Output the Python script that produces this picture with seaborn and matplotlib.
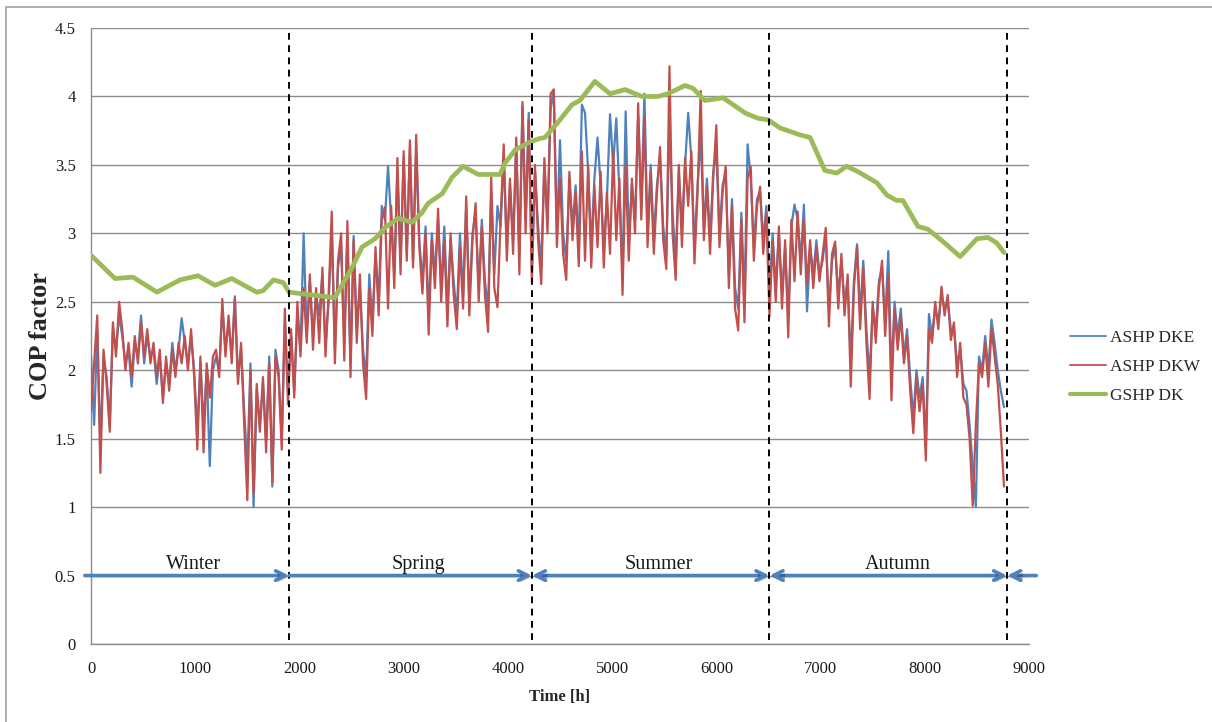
import numpy as np
import pandas as pd
import matplotlib
matplotlib.use("Agg")
import matplotlib.pyplot as plt
import matplotlib.patheffects as pe
from matplotlib.lines import Line2D
from matplotlib.patches import Rectangle
import seaborn as sns

# ---------------------------------------------------------------- data
# Hourly COP of the air-source heat pumps, sampled every 30 h (0 ... 8760 h)
ashp_hours = np.arange(0, 8761, 30)

ashp_dke = [
    2.10, 1.60, 2.30, 1.45, 2.10, 1.95, 1.60, 2.30, 2.15, 2.40,
    2.25, 2.05, 2.15, 1.88, 2.20, 2.10, 2.40, 2.05, 2.25, 2.10,
    2.15, 1.90, 2.10, 1.80, 2.05, 1.90, 2.20, 2.00, 2.15, 2.38,
    2.20, 2.05, 2.25, 2.00, 1.55, 2.05, 1.60, 2.00, 1.30, 2.00,
    2.10, 2.00, 2.45, 2.15, 2.35, 2.10, 2.54, 1.95, 2.15, 1.70,
    1.30, 2.05, 1.00, 1.85, 1.60, 1.90, 1.50, 2.10, 1.15, 2.15,
    2.00, 1.50, 2.35, 1.85, 2.25, 1.85, 2.40, 2.15, 3.00, 2.25,
    2.65, 2.25, 2.55, 2.40, 2.70, 2.20, 2.50, 3.00, 2.15, 2.75,
    2.90, 2.20, 3.00, 2.05, 2.98, 2.30, 2.60, 2.15, 1.95, 2.70,
    2.35, 2.85, 2.50, 3.20, 3.10, 3.49, 3.10, 2.70, 3.45, 2.80,
    3.55, 2.85, 3.62, 2.80, 3.60, 2.95, 2.65, 3.05, 2.40, 3.00,
    2.70, 3.10, 2.60, 3.05, 2.45, 2.95, 2.65, 2.40, 3.00, 2.55,
    3.20, 2.50, 3.00, 3.15, 2.60, 3.10, 2.65, 2.45, 3.30, 2.70,
    3.20, 3.05, 3.55, 2.90, 3.35, 2.95, 3.65, 2.85, 3.93, 3.10,
    3.88, 2.75, 3.45, 3.05, 2.75, 3.50, 3.10, 3.90, 4.05, 3.00,
    3.68, 3.00, 2.80, 3.40, 3.05, 3.35, 2.90, 3.94, 3.88, 3.45,
    2.90, 3.40, 3.70, 3.35, 2.90, 3.25, 3.87, 3.50, 3.84, 3.30,
    2.70, 3.89, 2.95, 3.35, 3.10, 3.85, 3.20, 4.02, 3.00, 3.50,
    2.95, 3.35, 3.55, 3.05, 2.85, 3.78, 3.15, 2.80, 3.45, 3.05,
    3.50, 3.88, 3.55, 2.90, 3.35, 3.70, 3.05, 3.40, 2.95, 3.45,
    3.60, 3.00, 3.35, 3.45, 2.70, 3.25, 2.60, 2.45, 3.15, 2.50,
    3.65, 3.40, 2.90, 3.25, 3.30, 2.95, 3.20, 2.55, 3.00, 2.60,
    3.00, 2.55, 2.90, 2.40, 3.05, 3.21, 3.10, 2.80, 3.21, 2.43,
    2.90, 2.70, 2.95, 2.70, 2.80, 3.00, 2.45, 2.80, 2.90, 2.55,
    2.80, 2.50, 2.65, 2.05, 2.65, 2.92, 2.40, 2.80, 2.30, 1.95,
    2.45, 2.30, 2.65, 2.75, 2.35, 2.87, 1.95, 2.50, 2.25, 2.45,
    2.10, 2.30, 1.95, 1.65, 2.00, 1.80, 1.95, 1.45, 2.41, 2.25,
    2.45, 2.35, 2.55, 2.45, 2.50, 2.30, 2.30, 2.05, 2.15, 1.90,
    1.85, 1.60, 1.30, 1.00, 2.10, 2.00, 2.25, 2.00, 2.37, 2.20,
    2.00, 1.85, 1.73,
]

ashp_dkw = [
    1.70, 2.05, 2.40, 1.25, 2.15, 1.90, 1.55, 2.35, 2.10, 2.50,
    2.30, 2.00, 2.20, 1.95, 2.25, 2.05, 2.35, 2.10, 2.30, 2.05,
    2.20, 1.95, 2.15, 1.76, 2.10, 1.85, 2.15, 1.95, 2.20, 2.05,
    2.25, 2.00, 2.30, 1.95, 1.42, 2.10, 1.40, 2.05, 1.80, 2.10,
    2.15, 1.95, 2.52, 2.10, 2.40, 2.05, 2.52, 1.90, 2.20, 1.60,
    1.05, 2.00, 1.10, 1.90, 1.55, 1.95, 1.40, 2.05, 1.18, 2.10,
    1.95, 1.42, 2.45, 1.75, 2.30, 1.80, 2.50, 2.10, 2.60, 2.20,
    2.70, 2.15, 2.60, 2.20, 2.75, 2.10, 2.55, 3.16, 2.05, 2.80,
    3.00, 2.07, 3.09, 1.95, 2.95, 2.20, 2.70, 2.05, 1.79, 2.60,
    2.25, 2.90, 2.40, 3.10, 3.19, 2.45, 3.20, 2.60, 3.55, 2.70,
    3.60, 2.80, 3.68, 2.75, 3.72, 2.90, 2.56, 3.00, 2.26, 2.95,
    2.60, 3.18, 2.50, 2.95, 2.32, 3.00, 2.55, 2.30, 2.90, 2.45,
    3.27, 2.40, 2.95, 3.22, 2.50, 3.05, 2.55, 2.28, 3.41, 2.60,
    2.46, 3.10, 3.65, 2.80, 3.40, 2.85, 3.70, 2.70, 3.96, 3.00,
    3.83, 2.63, 3.50, 2.95, 2.63, 3.55, 3.00, 4.02, 4.05, 2.90,
    3.40, 2.85, 2.66, 3.45, 2.95, 3.30, 2.76, 3.60, 2.80, 3.50,
    2.75, 3.35, 2.90, 3.45, 2.75, 3.30, 2.85, 3.60, 2.95, 3.40,
    2.55, 3.50, 2.80, 3.40, 3.00, 3.95, 3.10, 3.85, 2.90, 3.45,
    2.85, 3.30, 3.63, 2.95, 2.74, 4.22, 3.00, 2.66, 3.50, 2.90,
    3.55, 3.20, 3.60, 2.78, 3.30, 4.04, 2.95, 3.35, 2.85, 3.40,
    3.79, 2.90, 3.30, 3.49, 2.60, 3.20, 2.45, 2.29, 3.10, 2.35,
    3.40, 3.49, 2.80, 3.20, 3.34, 2.85, 3.15, 2.39, 2.95, 2.50,
    3.05, 2.45, 2.95, 2.24, 3.10, 2.65, 3.16, 2.70, 3.10, 2.63,
    2.95, 2.60, 2.90, 2.65, 2.85, 3.04, 2.32, 2.85, 2.94, 2.45,
    2.85, 2.40, 2.70, 1.88, 2.60, 2.90, 2.30, 2.75, 2.20, 1.79,
    2.50, 2.20, 2.60, 2.80, 2.25, 2.70, 1.78, 2.45, 2.15, 2.40,
    2.05, 2.25, 1.85, 1.54, 1.95, 1.70, 1.90, 1.34, 2.30, 2.20,
    2.50, 2.30, 2.61, 2.40, 2.55, 2.22, 2.35, 1.95, 2.20, 1.80,
    1.75, 1.50, 1.01, 1.60, 2.05, 1.95, 2.20, 1.88, 2.30, 2.10,
    1.90, 1.55, 1.15,
]

# Ground-source heat pump COP (smooth seasonal curve)
gshp_hours = [
    0, 230, 403, 633, 854, 1027, 1190, 1350, 1590, 1650, 1750, 1845, 1900,
    2120, 2340, 2505, 2600, 2725, 2820, 2945, 3080, 3175, 3235, 3370, 3465,
    3570, 3715, 3925, 3970, 4070, 4195, 4290, 4355, 4480, 4615, 4690, 4835,
    4980, 5125, 5285, 5440, 5535, 5700, 5775, 5890, 6065, 6275, 6400, 6495,
    6610, 6800, 6900, 7040, 7155, 7250, 7360, 7540, 7635, 7730, 7790, 7935,
    8030, 8175, 8340, 8500, 8605, 8690, 8760,
]
gshp_dk = [
    2.84, 2.67, 2.68, 2.57, 2.66, 2.69, 2.62, 2.67, 2.57, 2.58, 2.66, 2.64, 2.57,
    2.55, 2.53, 2.75, 2.90, 2.96, 3.04, 3.11, 3.08, 3.15, 3.22, 3.29, 3.41,
    3.49, 3.43, 3.43, 3.51, 3.61, 3.66, 3.69, 3.70, 3.81, 3.94, 3.97, 4.11,
    4.02, 4.05, 4.00, 4.00, 4.02, 4.08, 4.06, 3.97, 3.99, 3.88, 3.84, 3.83,
    3.77, 3.72, 3.70, 3.46, 3.44, 3.49, 3.45, 3.37, 3.28, 3.24, 3.24, 3.05,
    3.03, 2.94, 2.83, 2.96, 2.97, 2.93, 2.86,
]

season_names = ["Winter", "Spring", "Summer", "Autumn"]
season_label_x = [980, 3140, 5450, 7745]
season_bounds = [1900, 4230, 6510, 8790]

x_ticks = [0, 1000, 2000, 3000, 4000, 5000, 6000, 7000, 8000, 9000]
y_ticks = [0, 0.5, 1, 1.5, 2, 2.5, 3, 3.5, 4, 4.5]

# ---------------------------------------------------------------- style
sns.set_theme(style="white")
plt.rcParams["font.family"] = ["Liberation Serif", "DejaVu Serif"]

C_BLUE = "#4F81BD"
C_RED = "#C0504D"
C_GREEN = "#9BBB59"
C_GRID = "#8C8C8C"

fig = plt.figure(figsize=(12.12, 7.22), dpi=100)
fig.patch.set_facecolor("white")
ax = fig.add_axes([91 / 1212, 1 - 644 / 722, (1029 - 91) / 1212, (644 - 28) / 722])

# outer chart frame
fig.patches.append(Rectangle((6 / 1212, -0.05), 1.2, 1 - 7 / 722 + 0.05,
                             transform=fig.transFigure, fill=False,
                             edgecolor="#A0A0A0", lw=1.2, zorder=0))

ashp = pd.DataFrame({"hour": ashp_hours, "ASHP DKE": ashp_dke, "ASHP DKW": ashp_dkw})
gshp = pd.DataFrame({"hour": gshp_hours, "GSHP DK": gshp_dk})

sns.lineplot(data=ashp, x="hour", y="ASHP DKE", ax=ax, color=C_BLUE, lw=1.6,
             estimator=None, sort=False, zorder=3)
sns.lineplot(data=ashp, x="hour", y="ASHP DKW", ax=ax, color=C_RED, lw=1.6,
             estimator=None, sort=False, zorder=4)
sns.lineplot(data=gshp, x="hour", y="GSHP DK", ax=ax, color=C_GREEN, lw=3.4,
             estimator=None, sort=False, zorder=5, solid_capstyle="round")

ax.set_xlim(0, 9000)
ax.set_ylim(0, 4.5)
ax.set_xticks(x_ticks)
ax.set_yticks(y_ticks)
ax.set_xticklabels([str(t) for t in x_ticks])
ax.set_yticklabels([f"{t:g}" for t in y_ticks])
ax.tick_params(axis="both", length=0, labelsize=12, colors="#1a1a1a")
ax.tick_params(axis="y", pad=11)
ax.tick_params(axis="x", pad=12)

ax.grid(axis="y", color=C_GRID, lw=1.0)
ax.grid(axis="x", visible=False)
ax.set_axisbelow(True)
for side in ["top", "right"]:
    ax.spines[side].set_visible(False)
for side in ["left", "bottom"]:
    ax.spines[side].set_color(C_GRID)
    ax.spines[side].set_linewidth(1.0)

ax.set_xlabel("Time [h]", fontsize=12, fontweight="bold", labelpad=9)
ax.set_ylabel("COP factor", fontsize=19, fontweight="bold", labelpad=2)

# season boundaries
ax.vlines(season_bounds, 0.03, 4.5, colors="black", lw=1.4,
          linestyles=(0, (3.5, 2.8)), zorder=6)

# season arrows
shadow = [pe.SimplePatchShadow(offset=(1.5, -1.5), shadow_rgbFace="black", alpha=0.25),
          pe.Normal()]
arrow_kw = dict(color=C_BLUE, lw=2.6, shrinkA=0, shrinkB=0, mutation_scale=17)
arrow_specs = [
    (-60, season_bounds[0], "->"),
    (season_bounds[0], season_bounds[1], "->"),
    (season_bounds[1], season_bounds[2], "<->"),
    (season_bounds[2], season_bounds[3], "<->"),
    (season_bounds[3], 9070, "<-"),
]
for x0, x1, style in arrow_specs:
    ann = ax.annotate("", xy=(x1, 0.5), xytext=(x0, 0.5),
                      arrowprops=dict(arrowstyle=style, **arrow_kw),
                      annotation_clip=False, zorder=7)
    ann.arrow_patch.set_path_effects(shadow)

for name, xc in zip(season_names, season_label_x):
    ax.text(xc, 0.545, name, ha="center", va="baseline", fontsize=14.5,
            color="#1a1a1a", zorder=8)

# legend
handles = [
    Line2D([], [], color=C_BLUE, lw=1.3),
    Line2D([], [], color=C_RED, lw=1.3),
    Line2D([], [], color=C_GREEN, lw=3.0),
]
fig.legend(handles, ["ASHP DKE", "ASHP DKW", "GSHP DK"],
           loc="center left", bbox_to_anchor=(1070 / 1212, 1 - 367 / 722),
           frameon=False, fontsize=12.5, handlelength=2.1, handletextpad=0.2,
           labelspacing=0.75, borderpad=0, borderaxespad=0)

fig.savefig("out.png", dpi=100, facecolor="white")
